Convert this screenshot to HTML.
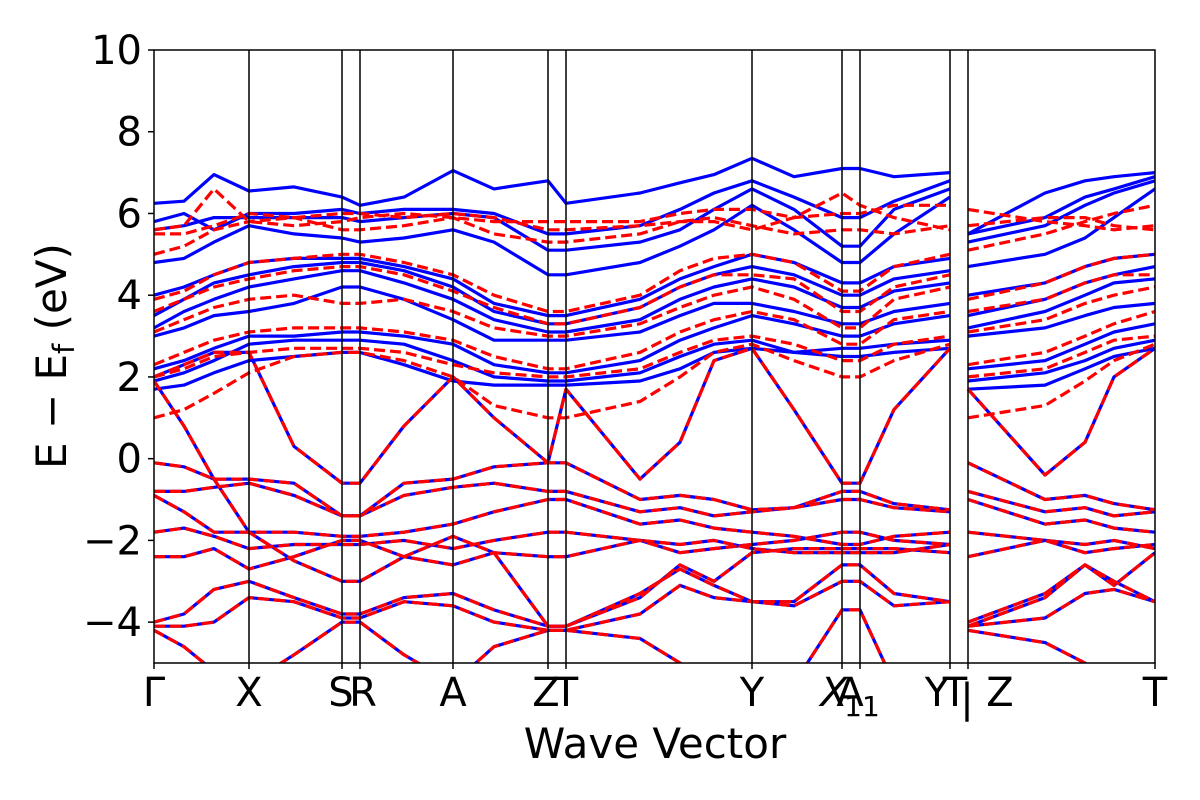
<!DOCTYPE html>
<html><head><meta charset="utf-8"><style>
body{margin:0;background:#fff}
svg{display:block;font-family:"DejaVu Sans","Liberation Sans",sans-serif}
</style></head><body>
<svg id="chart" width="1200" height="800" viewBox="0 0 1200 800"></svg>
<script>
const kpts=[0,30,60,95,140,188,206,250,299,340,394,412,486,526,560,598,640,688,706,740,796,814,891,931,960,1001];
const kLines=[95,188,206,299,394,412,598,688,706,796,814];
const breakAfter=[20];
const yTicks=[10,8,6,4,2,0,-2,-4];
const valence=[
[1.9,0.8,-0.5,-1.8,-2.5,-3.0,-3.0,-2.4,-1.9,-2.3,-4.1,-4.1,-3.4,-2.6,-3.0,-2.3,-2.2,-2.2,-2.2,-2.2,-2.3,-4.1,-3.4,-2.6,-3.1,-2.3],
[2.0,2.3,2.6,2.6,0.3,-0.6,-0.6,0.8,2.0,1.0,-0.1,1.7,-0.5,0.4,2.4,2.7,1.2,-0.6,-0.6,1.2,2.7,1.7,-0.4,0.4,2.0,2.7],
[-0.1,-0.2,-0.5,-0.5,-0.6,-1.4,-1.4,-0.6,-0.5,-0.2,-0.1,-0.1,-1.0,-0.9,-1.0,-1.25,-1.2,-0.8,-0.8,-1.1,-1.25,-0.1,-1.0,-0.9,-1.1,-1.25],
[-0.8,-0.8,-0.7,-0.6,-0.9,-1.4,-1.4,-0.9,-0.7,-0.6,-0.8,-0.8,-1.3,-1.2,-1.4,-1.3,-1.2,-1.0,-1.0,-1.2,-1.3,-0.8,-1.3,-1.2,-1.4,-1.3],
[-0.9,-1.3,-1.8,-1.8,-1.8,-1.9,-1.9,-1.8,-1.6,-1.3,-1.0,-1.0,-1.6,-1.5,-1.7,-1.8,-1.9,-2.1,-2.1,-1.9,-1.8,-1.0,-1.6,-1.5,-1.7,-1.8],
[-1.8,-1.7,-1.9,-2.2,-2.1,-2.1,-2.1,-2.0,-2.2,-2.0,-1.8,-1.8,-2.0,-2.1,-2.0,-2.2,-2.3,-2.3,-2.3,-2.3,-2.1,-1.8,-2.0,-2.1,-2.0,-2.2],
[-2.4,-2.4,-2.2,-2.7,-2.4,-2.0,-2.0,-2.4,-2.6,-2.3,-2.4,-2.4,-2.0,-2.3,-2.2,-2.1,-2.0,-1.8,-1.8,-2.0,-2.1,-2.4,-2.0,-2.3,-2.2,-2.1],
[-4.0,-3.8,-3.2,-3.0,-3.4,-3.8,-3.8,-3.4,-3.3,-3.7,-4.1,-4.1,-3.3,-2.7,-3.1,-3.5,-3.5,-2.6,-2.6,-3.3,-3.5,-4.0,-3.3,-2.6,-3.0,-3.5],
[-4.1,-4.1,-4.0,-3.4,-3.5,-3.9,-3.9,-3.5,-3.6,-4.0,-4.2,-4.2,-3.8,-3.1,-3.4,-3.5,-3.6,-3.0,-3.0,-3.6,-3.5,-4.1,-3.9,-3.3,-3.2,-3.5],
[-4.2,-4.6,-5.2,-5.5,-4.8,-4.0,-4.0,-4.8,-5.5,-4.6,-4.2,-4.2,-4.4,-5.0,-5.5,-5.5,-5.5,-3.7,-3.7,-5.5,-5.5,-4.2,-4.5,-5.0,-5.5,-5.5]];
const condUp=[
[1.7,1.8,2.1,2.4,2.5,2.6,2.6,2.3,1.9,1.8,1.8,1.8,1.9,2.2,2.6,2.7,2.6,2.5,2.5,2.6,2.7,1.7,1.8,2.2,2.5,2.7],
[1.9,2.1,2.4,2.8,2.9,2.9,2.9,2.8,2.4,2.0,1.9,1.9,2.1,2.5,2.8,2.9,2.6,2.7,2.7,2.8,2.9,1.9,2.1,2.4,2.7,2.9],
[2.2,2.4,2.7,3.0,3.0,3.1,3.1,3.0,2.8,2.3,2.1,2.1,2.4,2.9,3.2,3.5,3.3,3.0,3.0,3.3,3.5,2.2,2.4,2.8,3.1,3.3],
[3.0,3.2,3.5,3.6,3.8,4.2,4.2,3.9,3.4,2.9,2.9,2.9,3.1,3.5,3.8,3.8,3.6,3.3,3.3,3.6,3.8,3.0,3.2,3.5,3.7,3.8],
[3.2,3.6,3.9,4.2,4.4,4.6,4.6,4.3,3.9,3.4,3.1,3.1,3.4,3.9,4.2,4.4,4.2,3.7,3.7,4.1,4.3,3.2,3.6,4.0,4.3,4.4],
[3.5,3.9,4.3,4.5,4.7,4.8,4.8,4.6,4.2,3.6,3.3,3.3,3.7,4.2,4.5,4.7,4.5,4.0,4.0,4.4,4.6,3.5,3.9,4.3,4.5,4.7],
[4.0,4.2,4.5,4.8,4.9,4.9,4.9,4.7,4.4,3.8,3.5,3.5,3.9,4.4,4.7,5.0,4.8,4.3,4.3,4.7,4.9,4.0,4.3,4.7,4.9,5.0],
[4.8,4.9,5.3,5.7,5.5,5.4,5.3,5.4,5.6,5.3,4.5,4.5,4.8,5.2,5.6,6.2,5.6,4.8,4.8,5.5,6.4,4.7,5.0,5.4,5.9,6.6],
[5.6,5.7,5.9,5.9,5.9,5.9,5.8,5.9,6.0,5.9,5.1,5.1,5.3,5.6,6.1,6.6,6.1,5.2,5.2,6.1,6.6,5.3,5.7,6.2,6.5,6.8],
[5.8,6.0,5.6,6.0,6.0,6.1,6.0,6.1,6.1,6.0,5.5,5.5,5.7,6.1,6.5,6.8,6.4,5.9,5.9,6.3,6.8,5.5,5.9,6.4,6.6,6.9],
[6.25,6.3,6.95,6.55,6.65,6.4,6.2,6.4,7.05,6.6,6.8,6.25,6.5,6.75,6.95,7.35,6.9,7.1,7.1,6.9,7.0,5.5,6.5,6.8,6.9,7.0]];
const condDown=[
[1.0,1.2,1.6,2.1,2.5,2.6,2.6,2.4,2.0,1.3,1.0,1.0,1.4,2.0,2.6,2.8,2.4,2.0,2.0,2.4,2.8,1.0,1.3,1.9,2.4,2.8],
[2.0,2.2,2.5,2.6,2.7,2.7,2.7,2.6,2.3,2.1,2.0,2.0,2.2,2.6,2.9,3.0,2.8,2.4,2.4,2.8,3.0,2.0,2.2,2.6,2.9,3.0],
[2.3,2.6,2.9,3.1,3.2,3.2,3.2,3.1,2.9,2.5,2.2,2.2,2.6,3.1,3.4,3.6,3.4,2.8,2.8,3.4,3.6,2.3,2.6,3.0,3.3,3.6],
[3.1,3.4,3.7,3.9,4.0,3.8,3.8,3.9,3.6,3.2,3.0,3.0,3.3,3.7,4.0,4.2,3.9,3.2,3.2,3.9,4.2,3.1,3.4,3.8,4.0,4.2],
[3.6,3.9,4.2,4.4,4.6,4.7,4.7,4.5,4.1,3.7,3.3,3.3,3.7,4.2,4.5,4.5,4.4,3.6,3.6,4.2,4.5,3.6,3.9,4.3,4.5,4.5],
[3.9,4.1,4.5,4.8,4.9,5.0,5.0,4.8,4.5,4.0,3.6,3.6,4.0,4.6,4.9,5.0,4.8,4.1,4.1,4.7,5.0,3.9,4.3,4.7,4.9,5.0],
[5.0,5.2,5.6,5.8,5.9,5.6,5.6,5.7,5.9,5.5,5.3,5.3,5.5,5.8,5.9,5.7,5.5,5.6,5.6,5.5,5.7,5.1,5.5,5.8,6.0,6.2],
[5.5,5.5,5.7,6.0,5.9,6.0,6.0,5.9,6.0,5.9,5.6,5.6,5.7,5.8,5.8,5.6,5.9,6.5,6.2,5.9,5.6,5.7,5.9,5.9,5.7,5.6],
[5.6,5.7,6.6,5.8,5.7,5.8,5.9,6.0,5.9,5.8,5.8,5.8,5.8,6.0,6.1,6.1,5.9,6.0,6.0,6.2,6.2,6.1,5.8,5.7,5.6,5.7]];

const X0=154,X1=1155,Y0=50,Y1=663,EMIN=-5,EMAX=10;
const sx=k=>X0+k*(X1-X0)/1001;
const sy=e=>Y0+(EMAX-e)*(Y1-Y0)/(EMAX-EMIN);
const NS='http://www.w3.org/2000/svg';
const svg=document.getElementById('chart');
function mk(t,a){const e=document.createElementNS(NS,t);for(const k in a)e.setAttribute(k,a[k]);return e;}
const defs=mk('defs',{});const cp=mk('clipPath',{id:'clip'});
cp.appendChild(mk('rect',{x:X0,y:Y0,width:X1-X0,height:Y1-Y0}));defs.appendChild(cp);svg.appendChild(defs);
const plot=mk('g',{'clip-path':'url(#clip)'});


svg.appendChild(plot);
function segPath(b){
  let d='';
  b.forEach((e,i)=>{
    const cmd=(i===0||breakAfter.includes(i-1))?'M':'L';
    d+=cmd+sx(kpts[i]).toFixed(1)+','+sy(e).toFixed(1)+' ';
  });
  return d;
}
function line(b,color,dash,name){
  const p=mk('path',{d:segPath(b),fill:'none',stroke:color,'stroke-width':3.2,'stroke-linejoin':'round'});
  if(dash)p.setAttribute('stroke-dasharray','11,5');
  
  
  plot.appendChild(p);
}
valence.forEach(b=>line(b,'#0000ff',false,'spin-up-valence-band'));
condUp.forEach(b=>line(b,'#0000ff',false,'spin-up-conduction-band'));
valence.forEach(b=>line(b,'#ff0000',true,'spin-down-valence-band'));
condDown.forEach(b=>line(b,'#ff0000',true,'spin-down-conduction-band'));
kLines.forEach(k=>{
  const l=mk('line',{x1:sx(k),x2:sx(k),y1:Y0,y2:Y1,stroke:'#000','stroke-width':1.5});
  
  
  svg.appendChild(l);
});
const frame=mk('rect',{x:X0,y:Y0,width:X1-X0,height:Y1-Y0,fill:'none',stroke:'#000','stroke-width':1.5});


svg.appendChild(frame);
yTicks.forEach(v=>{
  const y=sy(v);
  const t=mk('line',{x1:X0-6,x2:X0,y1:y,y2:y,stroke:'#000','stroke-width':1.5});
  
  
  svg.appendChild(t);
  const tx=mk('text',{x:X0-12,y:y+14,'text-anchor':'end','font-size':40});
  tx.textContent=(v<0?'\u2212'+(-v):''+v);
  
  
  svg.appendChild(tx);
});
[0].concat(kLines,[1001]).forEach(k=>{
  const t=mk('line',{x1:sx(k),x2:sx(k),y1:Y1,y2:Y1+6,stroke:'#000','stroke-width':1.5});
  
  
  svg.appendChild(t);
});
</script>
<svg style="position:absolute;left:0;top:0" width="1200" height="800">
<g font-family="DejaVu Sans, Liberation Sans, sans-serif" font-size="40" fill="#000">
<text x="154" y="706" text-anchor="middle">Γ</text>
<text x="249" y="706" text-anchor="middle">X</text>
<text x="341" y="706" text-anchor="middle">S</text>
<text x="363" y="706" text-anchor="middle">R</text>
<text x="453" y="706" text-anchor="middle">A</text>
<text x="546" y="706" text-anchor="middle">Z</text>
<text x="566" y="706" text-anchor="middle">T</text>
<text x="752" y="706" text-anchor="middle">Y</text>
<text x="834" y="706" text-anchor="middle" font-style="italic">X</text>
<text x="850" y="706" text-anchor="middle">A</text>
<text x="862" y="716" text-anchor="middle" font-size="28">11</text>
<text x="937" y="706" text-anchor="middle">Y</text>
<text x="955" y="706" text-anchor="middle">T</text>
<text x="967" y="712" text-anchor="middle">|</text>
<text x="1000" y="706" text-anchor="middle">Z</text>
<text x="1155" y="706" text-anchor="middle">T</text>
<text x="655" y="758" text-anchor="middle" font-size="42">Wave Vector</text>
<text transform="translate(66,356) rotate(-90)" text-anchor="middle" font-size="42">E − E<tspan font-size="29" dy="8">f</tspan><tspan dy="-8"> (eV)</tspan></text>
</g>
</svg>
</body></html>
